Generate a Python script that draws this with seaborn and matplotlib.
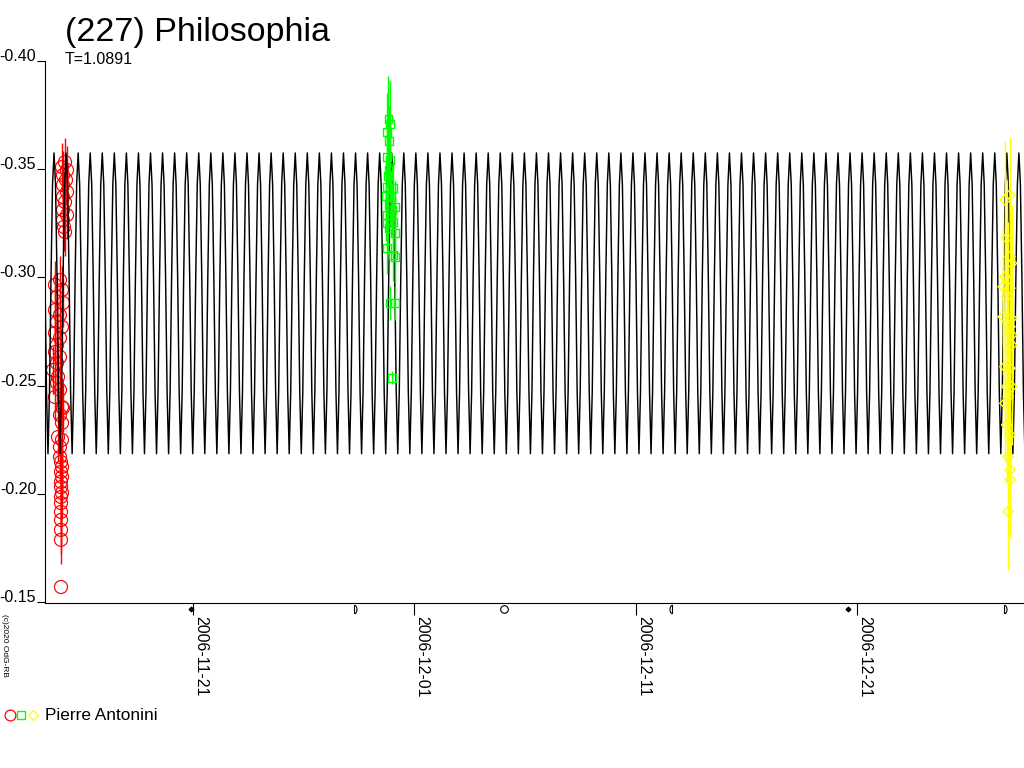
import numpy as np
import pandas as pd
import matplotlib
matplotlib.use("Agg")
import matplotlib.pyplot as plt
import matplotlib.dates as mdates
from matplotlib.path import Path
from matplotlib.lines import Line2D
import seaborn as sns

# ---------------- data ----------------
title = "(227) Philosophia"
period_text = "T=1.0891"
observer = "Pierre Antonini"
credit = "(c)2020 OdG-RB"

base_date = "2006-10-31"          # day numbers count from this date (21 = 2006-11-21)

period_days = 1.0891
epoch_max_day = 21.26
phase_profile = [-0.3575, -0.343, -0.300, -0.247, -0.2185, -0.247, -0.300, -0.343,
                 -0.3575, -0.343, -0.300, -0.247, -0.2185, -0.247, -0.300, -0.343]

red_day = [15.221, 15.086, 15.312, 15.131, 15.266, 15.131, 15.312, 15.131, 15.221, 15.131,
           15.312, 15.131, 15.176, 15.221,
           14.995, 14.770, 15.086, 14.860, 15.131, 14.770, 14.995, 14.860, 15.086, 14.770,
           14.995, 14.860, 14.770, 14.995, 14.860, 14.679, 14.905, 14.860, 14.995, 14.770,
           15.086, 15.131, 14.995, 15.086, 14.905, 15.086, 14.995, 14.995,
           15.040, 15.086, 15.040, 15.086, 15.040, 15.040, 15.086, 15.040, 15.040, 15.040,
           15.040, 15.040, 15.040, 15.040]
red_mag = [-0.3533, -0.3510, -0.3496, -0.3473, -0.3450, -0.3427, -0.3395, -0.3372, -0.3348, -0.3311,
           -0.3288, -0.3265, -0.3233, -0.3210,
           -0.2988, -0.2965, -0.2942, -0.2909, -0.2882, -0.2849, -0.2826, -0.2794, -0.2771, -0.2743,
           -0.2720, -0.2688, -0.2655, -0.2632, -0.2604, -0.2572, -0.2540, -0.2512, -0.2480, -0.2447,
           -0.2401, -0.2396, -0.2364, -0.2327, -0.2262, -0.2249, -0.2216, -0.2170,
           -0.2147, -0.2124, -0.2101, -0.2078, -0.2055, -0.2031, -0.2004, -0.1985, -0.1957, -0.1916,
           -0.1879, -0.1833, -0.1787, -0.1569]
red_err = [0.011] * 55 + [0.0]

green_day = [29.826, 29.894, 29.758, 29.849, 29.758, 29.894, 29.826, 29.804, 30.052, 29.736,
             29.713, 29.962, 29.826, 29.984, 30.120, 29.736, 30.052, 29.745, 29.826, 30.120,
             29.745, 30.043, 30.120, 29.894, 30.120, 29.971]
green_mag = [-0.3732, -0.3709, -0.3672, -0.3630, -0.3556, -0.3543, -0.3496, -0.3469, -0.3413, -0.3418,
             -0.3376, -0.3372, -0.3335, -0.3311, -0.3325, -0.3288, -0.3256, -0.3251, -0.3228, -0.3205,
             -0.3136, -0.3104, -0.3094, -0.2882, -0.2882, -0.2535]
green_err = [0.020, 0.020, 0.018, 0.016, 0.014, 0.014, 0.013, 0.013, 0.012, 0.012,
             0.012, 0.012, 0.012, 0.012, 0.012, 0.012, 0.012, 0.012, 0.012, 0.012,
             0.012, 0.012, 0.012, 0.008, 0.008, 0.003]

yellow_day = [57.660, 57.885, 57.736, 57.885, 57.962, 57.660, 57.808, 57.582, 57.885, 57.736,
              57.582, 57.962, 57.885, 57.962, 57.962, 57.660, 57.885, 57.736, 57.962, 57.808,
              57.660, 57.736, 57.885, 57.808, 57.885, 57.885, 57.808]
yellow_mag = [-0.3358, -0.3381, -0.3181, -0.3096, -0.3065, -0.3003, -0.2988, -0.2957, -0.2950, -0.2911,
              -0.2818, -0.2811, -0.2772, -0.2734, -0.2688, -0.2587, -0.2580, -0.2495, -0.2495, -0.2449,
              -0.2418, -0.2318, -0.2272, -0.2171, -0.2110, -0.2064, -0.1917]
yellow_err = [0.027] * 27

tick_dates = ["2006-11-21", "2006-12-01", "2006-12-11", "2006-12-21"]
y_ticks = [-0.40, -0.35, -0.30, -0.25, -0.20, -0.15]
moon_day = [20.93, 28.27, 35.02, 42.61, 50.58, 57.62]
moon_phase = ["new", "first", "full", "last", "new", "first"]

x_range_day = [14.318, 58.52]
y_range = [-0.1495, -0.40]

# ---------------- style ----------------
sns.set_style("white")
plt.rcParams['font.family'] = ['Liberation Sans', 'DejaVu Sans']
plt.rcParams['axes.unicode_minus'] = False
plt.rcParams['ytick.alignment'] = 'baseline'
plt.rcParams['text.color'] = 'black'
plt.rcParams['axes.labelcolor'] = 'black'
plt.rcParams['xtick.color'] = 'black'
plt.rcParams['ytick.color'] = 'black'

W, H = 1024, 768
fig = plt.figure(figsize=(W / 100, H / 100), dpi=100)
ax = fig.add_axes([45 / W, 1 - 603 / H, 979 / W, 542 / H])

base = mdates.datestr2num(base_date)

# ---------------- model curve (profile repeated each period) ----------------
n0 = int(np.floor((x_range_day[0] - epoch_max_day) / period_days)) - 1
n1 = int(np.ceil((x_range_day[1] - epoch_max_day) / period_days)) + 1
cycles = np.arange(n0, n1 + 1)
phases = np.arange(len(phase_profile)) / len(phase_profile)
curve_t = epoch_max_day + period_days * (cycles[:, None] + phases[None, :]).ravel()
curve_m = np.tile(phase_profile, len(cycles))
curve_df = pd.DataFrame({"x": base + curve_t, "y": curve_m})

def errbars(x, y, e, color, z):
    ax.errorbar(x, y, yerr=e, fmt='none', ecolor=color, elinewidth=1.0, capsize=0, zorder=z)

# red observations (under the curve)
rx = base + np.array(red_day)
errbars(rx, red_mag, red_err, '#ff0000', 2)
sns.scatterplot(x=rx, y=red_mag, marker='o', s=88, color='#ff0000', facecolor='none',
                edgecolor='#ff0000', linewidth=0.85, ax=ax, zorder=2)

sns.lineplot(data=curve_df, x="x", y="y", estimator=None, sort=False, color='black',
             linewidth=1.05, ax=ax, zorder=3)

gx = base + np.array(green_day)
errbars(gx, green_mag, green_err, '#00ff00', 4)
sns.scatterplot(x=gx, y=green_mag, marker='s', s=32, color='#00ff00', facecolor='none',
                edgecolor='#00ff00', linewidth=1.0, ax=ax, zorder=4)

yx = base + np.array(yellow_day)
errbars(yx, yellow_mag, yellow_err, '#ffff00', 4)
sns.scatterplot(x=yx, y=yellow_mag, marker='D', s=28, color='#ffff00', facecolor='none',
                edgecolor='#ffff00', linewidth=1.0, ax=ax, zorder=4)

# ---------------- axes ----------------
ax.set_xlim(base + x_range_day[0], base + x_range_day[1])
ax.set_ylim(y_range[0], y_range[1])
ax.set_xlabel("")
ax.set_ylabel("")
ax.set_yticks(y_ticks)
ax.set_yticklabels([f"{v:.2f}" for v in y_ticks], fontsize=11.5)
ax.set_xticks([mdates.datestr2num(d) for d in tick_dates])
ax.set_xticklabels(tick_dates, rotation=-90, ha='left', va='top', fontsize=11.5)
ax.tick_params(axis='y', left=True, direction='out', length=5.8, width=0.8, pad=0.5, colors='black')
ax.tick_params(axis='x', bottom=True, direction='out', length=8.6, width=0.8, pad=1.0, colors='black')
for side in ['top', 'right']:
    ax.spines[side].set_visible(False)
for side in ['left', 'bottom']:
    ax.spines[side].set_color('black')
    ax.spines[side].set_linewidth(0.8)
ax.grid(False)

# moon phase symbols below the time axis
def half_moon(lit_right):
    th = np.linspace(0, np.pi, 13)
    sx = 0.6 * np.sin(th) * (1 if lit_right else -1)
    verts = [(0, 1)] + list(zip(sx, np.cos(th))) + [(0, 1)]
    return Path(verts)

moon_style = {
    "new": dict(marker='D', markersize=2.5, mfc='black', mec='black'),
    "first": dict(marker=half_moon(True), markersize=6, mfc='none', mec='black'),
    "full": dict(marker='o', markersize=5.5, mfc='none', mec='black'),
    "last": dict(marker=half_moon(False), markersize=6, mfc='none', mec='black'),
}
for d, ph in zip(moon_day, moon_phase):
    ax.plot([base + d], [-0.011], linestyle='none', mew=0.8, clip_on=False,
            transform=ax.get_xaxis_transform(), **moon_style[ph])

# ---------------- texts ----------------
fig.text(65 / W, 1 - 41 / H, title, fontsize=24.5, ha='left', va='baseline', color='black')
fig.text(65 / W, 1 - 64 / H, period_text, fontsize=11.5, ha='left', va='baseline', color='black')
fig.text(1 / W, 1 - 614 / H, credit, fontsize=6, rotation=-90, ha='left', va='top', color='black')

# observer legend
fig.add_artist(Line2D([9.5 / W], [1 - 715 / H], marker='o', markersize=7.8, mfc='none', mec='#ff0000',
                      mew=0.9, linestyle='none', transform=fig.transFigure))
fig.add_artist(Line2D([21 / W], [1 - 715 / H], marker='s', markersize=5.5, mfc='none', mec='#00ff00',
                      mew=1.0, linestyle='none', transform=fig.transFigure))
fig.add_artist(Line2D([33 / W], [1 - 715 / H], marker='D', markersize=5.6, mfc='none', mec='#ffff00',
                      mew=0.9, linestyle='none', transform=fig.transFigure))
fig.text(45 / W, 1 - 715 / H, observer, fontsize=12.4, ha='left', va='center', color='black')

fig.savefig("out.png", dpi=100)
